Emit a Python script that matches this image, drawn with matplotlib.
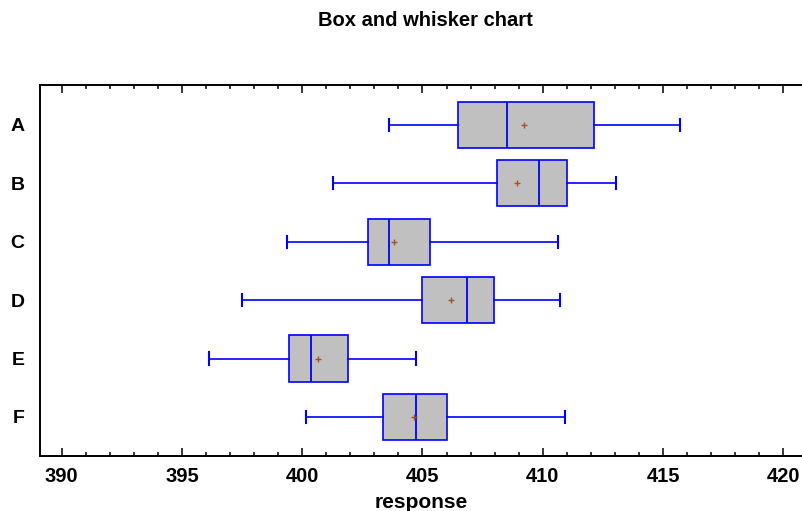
import numpy as np
import matplotlib.pyplot as plt

plt.rcParams['font.family'] = ['Liberation Sans', 'DejaVu Sans']

groups = ['A', 'B', 'C', 'D', 'E', 'F']
whisker_low = [403.60, 401.28, 399.36, 397.48, 396.12, 400.15]
q1 = [406.47, 408.08, 402.72, 404.98, 399.45, 403.37]
median = [408.51, 409.84, 403.62, 406.85, 400.37, 404.75]
q3 = [412.12, 411.02, 405.32, 407.98, 401.91, 406.00]
whisker_high = [415.70, 413.03, 410.64, 410.71, 404.73, 410.92]
mean = [409.23, 408.95, 403.80, 406.19, 400.65, 404.63]

stats = []
for i, g in enumerate(groups):
    stats.append({'label': g, 'whislo': whisker_low[i], 'q1': q1[i], 'med': median[i],
                  'q3': q3[i], 'whishi': whisker_high[i], 'mean': mean[i], 'fliers': []})

blue = '#0000ff'
fig = plt.figure(figsize=(8.03, 5.11), dpi=100)
ax = fig.add_axes([40 / 803, 1 - 456 / 511, 1 - 40 / 803, (456 - 85) / 511])

pos = np.arange(len(groups))
ax.bxp(stats, positions=pos, orientation='horizontal', widths=0.79, capwidths=0.21,
       patch_artist=True, showmeans=True, showfliers=False,
       boxprops=dict(facecolor='#c0c0c0', edgecolor=blue, linewidth=1.2),
       medianprops=dict(color=blue, linewidth=1.3),
       whiskerprops=dict(color=blue, linewidth=1.2),
       capprops=dict(color=blue, linewidth=1.5),
       meanprops=dict(marker='+', markeredgecolor='#a0522d', markersize=5, markeredgewidth=1.0))

ax.set_xlim(389.1, 420.82)
ax.set_ylim(len(groups) - 1 + 0.67, -0.685)
ax.set_yticks(pos)
ax.set_yticklabels(groups, fontsize=14, fontweight='bold')
ax.tick_params(axis='y', length=0, pad=11)
ax.set_xticks(np.arange(390, 421, 5))
ax.set_xticks(np.arange(390, 421, 1), minor=True)
ax.tick_params(axis='x', which='both', direction='in', top=True, bottom=True, width=1.1)
ax.tick_params(axis='x', which='major', length=6, labelsize=14.5, pad=8)
ax.tick_params(axis='x', which='minor', length=3)
for lab in ax.get_xticklabels():
    lab.set_fontweight('bold')
ax.spines['right'].set_visible(False)
for s in ['left', 'top', 'bottom']:
    ax.spines[s].set_linewidth(1.4)

ax.set_xlabel('response', fontsize=15, fontweight='bold', labelpad=5)
fig.text(425 / 803, 1 - 20 / 511, 'Box and whisker chart', ha='center', va='center',
         fontsize=14.5, fontweight='bold')

fig.savefig('out.png', dpi=100)
